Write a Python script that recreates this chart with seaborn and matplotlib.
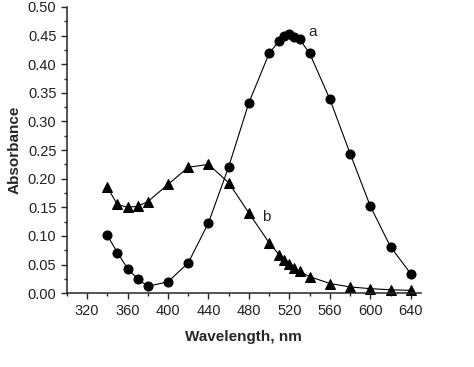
import pandas as pd
import seaborn as sns
import matplotlib.pyplot as plt
from matplotlib.ticker import MultipleLocator

# data
wl_a = [340, 350, 360, 370, 380, 400, 420, 440, 460, 480, 500, 510, 515, 520, 525, 530, 540, 560, 580, 600, 620, 640]
abs_a = [0.101, 0.071, 0.043, 0.025, 0.012, 0.020, 0.053, 0.123, 0.221, 0.333, 0.419, 0.441, 0.450, 0.452, 0.447, 0.444, 0.419, 0.339, 0.244, 0.152, 0.081, 0.034]

wl_b = [340, 350, 360, 370, 380, 400, 420, 440, 460, 480, 500, 510, 515, 520, 525, 530, 540, 560, 580, 600, 620, 640]
abs_b = [0.185, 0.155, 0.150, 0.152, 0.160, 0.190, 0.220, 0.225, 0.193, 0.140, 0.088, 0.067, 0.058, 0.051, 0.044, 0.038, 0.029, 0.017, 0.011, 0.008, 0.006, 0.005]

df_a = pd.DataFrame({"wl": wl_a, "abs": abs_a})
df_b = pd.DataFrame({"wl": wl_b, "abs": abs_b})

sns.set_style("ticks")
plt.rcParams["font.family"] = ["Liberation Sans", "DejaVu Sans"]

fig = plt.figure(figsize=(4.74, 3.67), dpi=100)
ax = fig.add_axes([0.141, 0.201, 0.747, 0.780])

sns.lineplot(data=df_a, x="wl", y="abs", ax=ax, color="black", linewidth=0.8,
             marker="o", markersize=6.5, markeredgecolor="black", clip_on=False)
sns.lineplot(data=df_b, x="wl", y="abs", ax=ax, color="black", linewidth=0.8,
             marker="^", markersize=7, markeredgecolor="black", clip_on=False)

ax.text(543, 0.457, "a", fontsize=11, ha="center", va="center", color="#222222")
ax.text(497, 0.134, "b", fontsize=11, ha="center", va="center", color="#222222")

ax.set_xlim(300, 650)
ax.set_ylim(0, 0.5)
ax.xaxis.set_minor_locator(MultipleLocator(20))
ax.yaxis.set_major_locator(MultipleLocator(0.05))
ax.yaxis.set_minor_locator(MultipleLocator(0.025))
ax.set_xticks(range(320, 641, 40))
ax.yaxis.set_major_formatter(plt.FormatStrFormatter("%.2f"))
ax.tick_params(which="major", length=4, width=1, labelsize=10.5, direction="out",
               labelcolor="#222222")
ax.tick_params(which="minor", length=2.5, width=1, direction="out")

ax.set_xlabel("Wavelength, nm", fontsize=11, fontweight="bold", labelpad=9)
ax.set_ylabel("Absorbance", fontsize=11, fontweight="bold", labelpad=4)

sns.despine(ax=ax)
for s in ["left", "bottom"]:
    ax.spines[s].set_linewidth(1.1)

plt.savefig("out.png", dpi=100)
